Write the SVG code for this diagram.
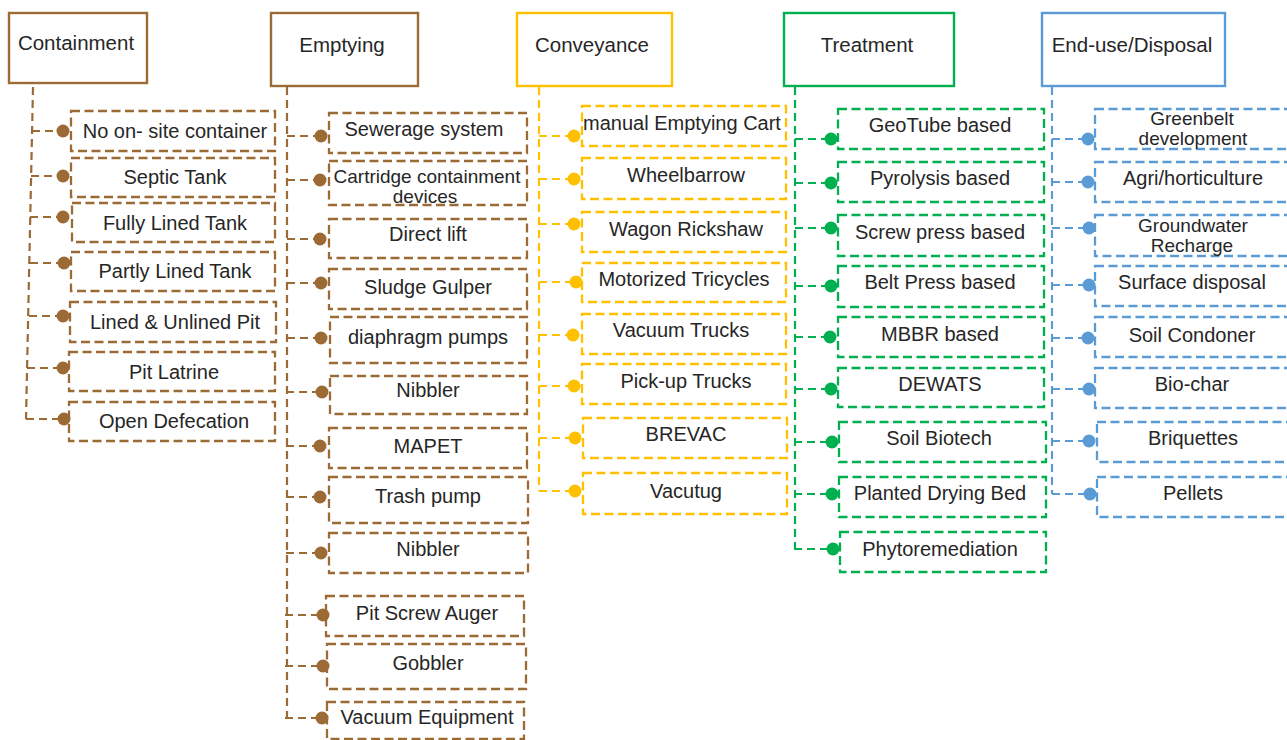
<svg xmlns="http://www.w3.org/2000/svg" width="1287" height="740" viewBox="0 0 1287 740">
<style>
text{font-family:"Liberation Sans",Arial,sans-serif;font-size:20px;fill:#262626;text-anchor:middle}
.h{font-size:20.5px}
.s{font-size:19px}
.hb{fill:#fff;stroke-width:2.4}
.ib{fill:#fff;stroke-width:2.3;stroke-dasharray:9 4.5}
.br{stroke:#9C6A35}.ye{stroke:#FFC000}.gr{stroke:#00B050}.bl{stroke:#5B9BD5}
.cn{fill:none;stroke-width:2.2;stroke-dasharray:8 5}
.dbr{fill:#9C6A35}.dye{fill:#FFC000}.dgr{fill:#00B050}.dbl{fill:#5B9BD5}
</style>
<rect width="1287" height="740" fill="#fff"/>
<g id="connectors">
<path class="cn br" d="M33,87 L26,419 M32,131 H62 M31,176 H63 M30,217 H63 M30,263 H64 M29,316 H63 M27,368 H63 M26,419 H64"/>
<path class="cn br" d="M287,87 V718 M287,136 H321 M287,180 H320 M287,239 H320 M287,283 H321 M287,338 H321 M286,392 H322 M286,446 H320 M286,497 H320 M286,553 H321 M285,615 H323 M285,666 H323 M285,718 H322"/>
<path class="cn ye" d="M539,87 V491 M539,136 H574 M539,179 H574 M539,224 H574 M539,282 H576 M539,335 H573 M539,386 H574 M539,438 H575 M539,491 H575"/>
<path class="cn gr" d="M795,87 V549 M795,139 H831 M795,183 H831 M795,228 H831 M795,286 H831 M795,337 H830 M795,389 H831 M794,442 H832 M794,494 H832 M794,549 H833"/>
<path class="cn bl" d="M1052,87 V494 M1052,139 H1088 M1052,182 H1088 M1052,228 H1089 M1052,285 H1089 M1052,338 H1088 M1052,389 H1089 M1052,441 H1089 M1052,494 H1090"/>
</g>
<g id="h-containment"><rect class="hb br" x="9" y="13" width="138" height="70"/><text class="h" x="76" y="50">Containment</text></g>
<g id="h-emptying"><rect class="hb br" x="271" y="13" width="147" height="73"/><text class="h" x="342" y="52">Emptying</text></g>
<g id="h-conveyance"><rect class="hb ye" x="517" y="13" width="155" height="73"/><text class="h" x="592" y="52">Conveyance</text></g>
<g id="h-treatment"><rect class="hb gr" x="784" y="13" width="170" height="73"/><text class="h" x="867" y="52">Treatment</text></g>
<g id="h-enduse"><rect class="hb bl" x="1042" y="13" width="183" height="73"/><text class="h" x="1132" y="52">End-use/Disposal</text></g>

<g id="c1"><rect class="ib br" x="71" y="111" width="204" height="40"/><circle class="dbr" cx="63" cy="131" r="6.5"/><text x="175" y="138">No on- site container</text></g>
<g id="c2"><rect class="ib br" x="71" y="158" width="204" height="39"/><circle class="dbr" cx="63" cy="176" r="6.5"/><text x="175" y="184">Septic Tank</text></g>
<g id="c3"><rect class="ib br" x="72" y="203" width="203" height="39"/><circle class="dbr" cx="63" cy="217" r="6.5"/><text x="175" y="230">Fully Lined Tank</text></g>
<g id="c4"><rect class="ib br" x="71" y="252" width="204" height="39"/><circle class="dbr" cx="64" cy="263" r="6.5"/><text x="175" y="278">Partly Lined Tank</text></g>
<g id="c5"><rect class="ib br" x="70" y="302" width="206" height="40"/><circle class="dbr" cx="63" cy="316" r="6.5"/><text x="175" y="329">Lined &amp; Unlined Pit</text></g>
<g id="c6"><rect class="ib br" x="69" y="352" width="206" height="39"/><circle class="dbr" cx="63" cy="368" r="6.5"/><text x="174" y="379">Pit Latrine</text></g>
<g id="c7"><rect class="ib br" x="69" y="402" width="206" height="39"/><circle class="dbr" cx="64" cy="419" r="6.5"/><text x="174" y="428">Open Defecation</text></g>

<g id="e1"><rect class="ib br" x="329" y="113" width="198" height="40"/><circle class="dbr" cx="321" cy="136" r="6.5"/><text x="424" y="136">Sewerage system</text></g>
<g id="e2"><rect class="ib br" x="329" y="161" width="198" height="44"/><circle class="dbr" cx="320" cy="180" r="6.5"/><text class="s" x="427" y="183">Cartridge containment</text><text class="s" x="425" y="203">devices</text></g>
<g id="e3"><rect class="ib br" x="329" y="219" width="198" height="39"/><circle class="dbr" cx="320" cy="239" r="6.5"/><text x="428" y="241">Direct lift</text></g>
<g id="e4"><rect class="ib br" x="329" y="269" width="198" height="40"/><circle class="dbr" cx="321" cy="283" r="6.5"/><text x="428" y="294">Sludge Gulper</text></g>
<g id="e5"><rect class="ib br" x="330" y="317" width="197" height="46"/><circle class="dbr" cx="321" cy="338" r="6.5"/><text x="428" y="344">diaphragm pumps</text></g>
<g id="e6"><rect class="ib br" x="330" y="376" width="197" height="38"/><circle class="dbr" cx="322" cy="392" r="6.5"/><text x="428" y="397">Nibbler</text></g>
<g id="e7"><rect class="ib br" x="329" y="428" width="198" height="40"/><circle class="dbr" cx="320" cy="446" r="6.5"/><text x="428" y="453">MAPET</text></g>
<g id="e8"><rect class="ib br" x="329" y="477" width="199" height="46"/><circle class="dbr" cx="320" cy="497" r="6.5"/><text x="428" y="503">Trash pump</text></g>
<g id="e9"><rect class="ib br" x="329" y="533" width="199" height="40"/><circle class="dbr" cx="321" cy="553" r="6.5"/><text x="428" y="556">Nibbler</text></g>
<g id="e10"><rect class="ib br" x="326" y="596" width="198" height="40"/><circle class="dbr" cx="323" cy="615" r="6.5"/><text x="427" y="620">Pit Screw Auger</text></g>
<g id="e11"><rect class="ib br" x="327" y="644" width="199" height="45"/><circle class="dbr" cx="323" cy="666" r="6.5"/><text x="428" y="670">Gobbler</text></g>
<g id="e12"><rect class="ib br" x="327" y="702" width="197" height="37"/><circle class="dbr" cx="322" cy="718" r="6.5"/><text x="427" y="724">Vacuum Equipment</text></g>

<g id="v1"><rect class="ib ye" x="582" y="106" width="204" height="40"/><circle class="dye" cx="574" cy="136" r="6.5"/><text x="682" y="130">manual Emptying Cart</text></g>
<g id="v2"><rect class="ib ye" x="582" y="158" width="204" height="41"/><circle class="dye" cx="574" cy="179" r="6.5"/><text x="686" y="182">Wheelbarrow</text></g>
<g id="v3"><rect class="ib ye" x="582" y="212" width="204" height="40"/><circle class="dye" cx="574" cy="224" r="6.5"/><text x="686" y="236">Wagon Rickshaw</text></g>
<g id="v4"><rect class="ib ye" x="582" y="263" width="204" height="39"/><circle class="dye" cx="576" cy="282" r="6.5"/><text x="684" y="286">Motorized Tricycles</text></g>
<g id="v5"><rect class="ib ye" x="582" y="314" width="204" height="40"/><circle class="dye" cx="573" cy="335" r="6.5"/><text x="681" y="337">Vacuum Trucks</text></g>
<g id="v6"><rect class="ib ye" x="582" y="364" width="204" height="40"/><circle class="dye" cx="574" cy="386" r="6.5"/><text x="686" y="388">Pick-up Trucks</text></g>
<g id="v7"><rect class="ib ye" x="583" y="418" width="204" height="40"/><circle class="dye" cx="575" cy="438" r="6.5"/><text x="686" y="441">BREVAC</text></g>
<g id="v8"><rect class="ib ye" x="583" y="473" width="204" height="41"/><circle class="dye" cx="575" cy="491" r="6.5"/><text x="686" y="498">Vacutug</text></g>

<g id="t1"><rect class="ib gr" x="838" y="109" width="206" height="40"/><circle class="dgr" cx="831" cy="139" r="6.5"/><text x="940" y="132">GeoTube based</text></g>
<g id="t2"><rect class="ib gr" x="838" y="162" width="206" height="40"/><circle class="dgr" cx="831" cy="183" r="6.5"/><text x="940" y="185">Pyrolysis based</text></g>
<g id="t3"><rect class="ib gr" x="838" y="215" width="206" height="41"/><circle class="dgr" cx="831" cy="228" r="6.5"/><text x="940" y="239">Screw press based</text></g>
<g id="t4"><rect class="ib gr" x="838" y="266" width="206" height="41"/><circle class="dgr" cx="831" cy="286" r="6.5"/><text x="940" y="289">Belt Press based</text></g>
<g id="t5"><rect class="ib gr" x="838" y="317" width="206" height="40"/><circle class="dgr" cx="830" cy="337" r="6.5"/><text x="940" y="341">MBBR based</text></g>
<g id="t6"><rect class="ib gr" x="838" y="368" width="206" height="39"/><circle class="dgr" cx="831" cy="389" r="6.5"/><text x="940" y="391">DEWATS</text></g>
<g id="t7"><rect class="ib gr" x="839" y="422" width="207" height="40"/><circle class="dgr" cx="832" cy="442" r="6.5"/><text x="939" y="445">Soil Biotech</text></g>
<g id="t8"><rect class="ib gr" x="839" y="477" width="207" height="40"/><circle class="dgr" cx="832" cy="494" r="6.5"/><text x="940" y="500">Planted Drying Bed</text></g>
<g id="t9"><rect class="ib gr" x="840" y="532" width="206" height="40"/><circle class="dgr" cx="833" cy="549" r="6.5"/><text x="940" y="556">Phytoremediation</text></g>

<g id="u1"><rect class="ib bl" x="1095" y="109" width="197" height="40"/><circle class="dbl" cx="1088" cy="139" r="6.5"/><text class="s" x="1192" y="125">Greenbelt</text><text class="s" x="1193" y="145">development</text></g>
<g id="u2"><rect class="ib bl" x="1095" y="162" width="197" height="40"/><circle class="dbl" cx="1088" cy="182" r="6.5"/><text x="1193" y="185">Agri/horticulture</text></g>
<g id="u3"><rect class="ib bl" x="1095" y="215" width="197" height="41"/><circle class="dbl" cx="1089" cy="228" r="6.5"/><text class="s" x="1193" y="232">Groundwater</text><text class="s" x="1192" y="252">Recharge</text></g>
<g id="u4"><rect class="ib bl" x="1095" y="266" width="197" height="40"/><circle class="dbl" cx="1089" cy="285" r="6.5"/><text x="1192" y="289">Surface disposal</text></g>
<g id="u5"><rect class="ib bl" x="1095" y="317" width="197" height="40"/><circle class="dbl" cx="1088" cy="338" r="6.5"/><text x="1192" y="342">Soil Condoner</text></g>
<g id="u6"><rect class="ib bl" x="1095" y="368" width="197" height="40"/><circle class="dbl" cx="1089" cy="389" r="6.5"/><text x="1192" y="391">Bio-char</text></g>
<g id="u7"><rect class="ib bl" x="1097" y="422" width="195" height="40"/><circle class="dbl" cx="1089" cy="441" r="6.5"/><text x="1193" y="445">Briquettes</text></g>
<g id="u8"><rect class="ib bl" x="1097" y="477" width="195" height="40"/><circle class="dbl" cx="1090" cy="494" r="6.5"/><text x="1193" y="500">Pellets</text></g>
</svg>
